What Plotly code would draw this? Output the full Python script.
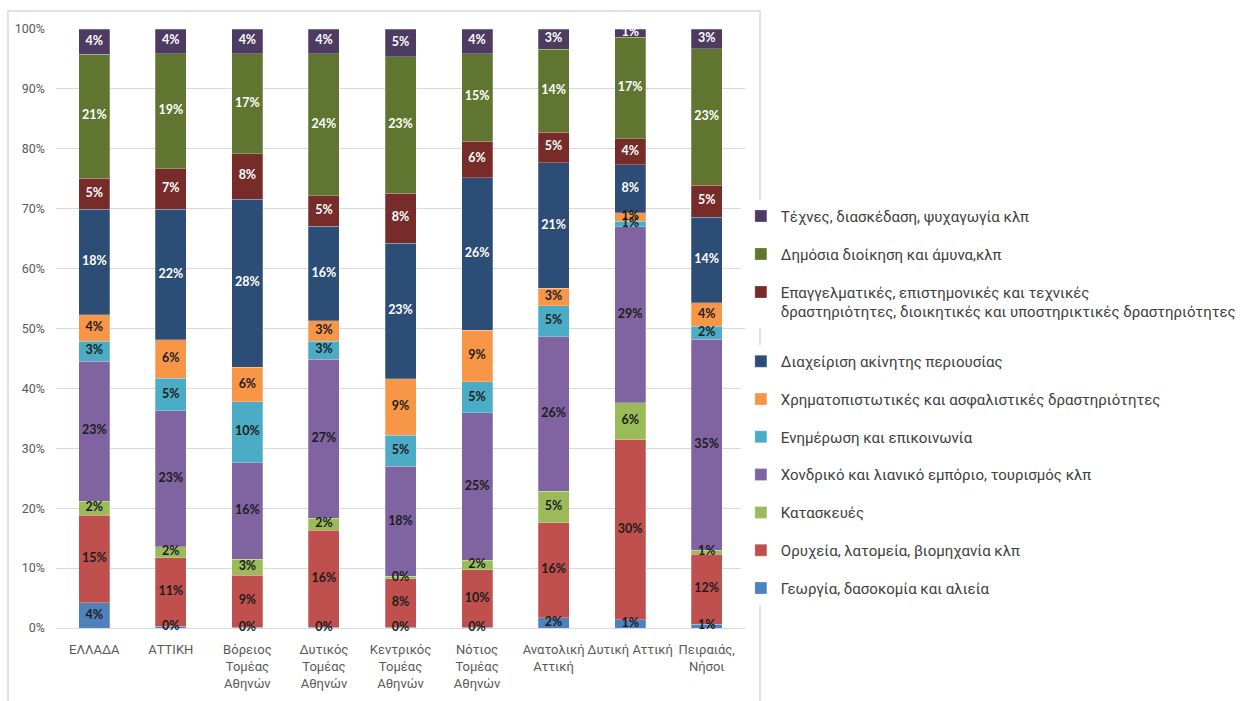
import numpy as np
import plotly.graph_objects as go

# Regions (x-axis categories)
regions = [
    "ΕΛΛΑΔΑ",
    "ΑΤΤΙΚΗ",
    "Βόρειος<br>Τομέας<br>Αθηνών",
    "Δυτικός<br>Τομέας<br>Αθηνών",
    "Κεντρικός<br>Τομέας<br>Αθηνών",
    "Νότιος<br>Τομέας<br>Αθηνών",
    "Ανατολική<br>Αττική",
    "Δυτική Αττική",
    "Πειραιάς,<br>Νήσοι",
]

# Share of each sector per region (%), bottom of the stack first
georgia = [4.2, 0.3, 0.1, 0.1, 0.1, 0.1, 1.7, 1.4, 0.6]
oryxeia = [14.6, 11.4, 8.7, 16.2, 8.1, 9.6, 15.9, 30.0, 11.7]
kataskeves = [2.4, 1.9, 2.7, 2.0, 0.4, 1.6, 5.2, 6.2, 0.7]
emporio = [23.3, 22.7, 16.1, 26.6, 18.4, 24.6, 25.8, 29.4, 35.2]
enimerosi = [3.4, 5.4, 10.2, 3.0, 5.2, 5.2, 5.2, 0.9, 2.2]
xrimatopistotikes = [4.4, 6.4, 5.7, 3.4, 9.4, 8.6, 2.9, 1.4, 3.9]
akiniti = [17.6, 21.8, 28.1, 15.8, 22.6, 25.5, 21.0, 8.0, 14.3]
epaggelmatikes = [5.2, 6.8, 7.6, 5.1, 8.4, 6.1, 5.1, 4.4, 5.3]
dimosia = [20.7, 19.2, 16.7, 23.7, 22.8, 14.6, 13.8, 16.9, 22.8]
texnes = [4.2, 4.1, 4.1, 4.1, 4.6, 4.1, 3.4, 1.4, 3.3]

# y-axis ticks
y_ticks = [0, 10, 20, 30, 40, 50, 60, 70, 80, 90, 100]
y_tick_labels = [f"{t}%" for t in y_ticks]

DARK = "#1c1c1c"
WHITE = "#ffffff"
TEXT_FONT = "Roboto"

# (name, values, colour, label colour, legend box)
series = [
    ("Γεωργία, δασοκομία και αλιεία", georgia, "#4F81BD", DARK, "legend2"),
    ("Ορυχεία, λατομεία, βιομηχανία κλπ", oryxeia, "#C0504D", DARK, "legend2"),
    ("Κατασκευές", kataskeves, "#9BBB59", DARK, "legend2"),
    ("Χονδρικό και λιανικό εμπόριο, τουρισμός κλπ", emporio, "#8064A2", DARK, "legend2"),
    ("Ενημέρωση και επικοινωνία", enimerosi, "#4BACC6", DARK, "legend2"),
    ("Χρηματοπιστωτικές και ασφαλιστικές δραστηριότητες", xrimatopistotikes, "#F79646", DARK, "legend2"),
    ("Διαχείριση ακίνητης περιουσίας", akiniti, "#2C4D75", WHITE, "legend2"),
    ("Επαγγελματικές, επιστημονικές και τεχνικές<br>"
     "δραστηριότητες, διοικητικές και υποστηρικτικές δραστηριότητες",
     epaggelmatikes, "#772C2A", WHITE, "legend"),
    ("Δημόσια διοίκηση και άμυνα,κλπ", dimosia, "#5F7530", WHITE, "legend"),
    ("Τέχνες, διασκέδαση, ψυχαγωγία κλπ", texnes, "#4D3B62", WHITE, "legend"),
]

fig = go.Figure()

# Stacked bars; top of the stack listed first in the legend
n = len(series)
for i, (name, vals, color, _, leg) in enumerate(series):
    fig.add_bar(
        x=regions, y=vals, name=name, legendgroup=name, legendrank=n - i, legend=leg,
        marker=dict(color=color, line=dict(color="rgba(255,255,255,0.5)", width=0.5)),
        hoverinfo="skip",
    )

# Value labels centred in each segment
base = np.zeros(len(regions))
for name, vals, color, txtcolor, _ in series:
    v = np.array(vals, dtype=float)
    mid = base + v / 2
    fig.add_scatter(
        x=regions, y=mid, mode="text",
        text=[f"{val:.0f}%" for val in v],
        textposition="middle center",
        textfont=dict(family="Lato", size=12.5, color=txtcolor, weight="bold"),
        showlegend=False, hoverinfo="skip", cliponaxis=False,
    )
    base = base + v

# Outer chart frame
fig.add_shape(
    type="rect", xref="paper", yref="paper",
    x0=-0.0697, x1=1.0218, y0=-0.25, y1=1.030,
    line=dict(color="#d9d9d9", width=1.5), layer="below",
)

legend_style = dict(
    x=0.994, xanchor="left", yanchor="top",
    traceorder="grouped",
    valign="top", bgcolor="white",
    font=dict(family=TEXT_FONT, size=15, color="#404040"),
)

fig.update_layout(
    width=1253, height=701,
    margin=dict(l=56, r=508, t=29, b=73),
    paper_bgcolor="white", plot_bgcolor="white",
    font=dict(family=TEXT_FONT, color="#595959"),
    barmode="stack", bargap=0.595,
    showlegend=True,
    legend=dict(legend_style, y=0.715, tracegroupgap=15.5),
    legend2=dict(legend_style, y=0.4725, tracegroupgap=15.3),
    xaxis=dict(
        showgrid=False, showline=False, ticks="", zeroline=False,
        tickfont=dict(family=TEXT_FONT, size=13, color="#595959"), tickangle=0,
        ticklabelstandoff=12, automargin=False,
    ),
    yaxis=dict(
        range=[0, 100], tickmode="array", tickvals=y_ticks, ticktext=y_tick_labels,
        showgrid=True, gridcolor="#d9d9d9", gridwidth=1,
        zeroline=True, zerolinecolor="#d9d9d9", zerolinewidth=1,
        showline=False, ticks="", automargin=False,
        tickfont=dict(family=TEXT_FONT, size=12.5, color="#595959"),
        ticklabelstandoff=10,
    ),
)

fig.write_html("out.html")
